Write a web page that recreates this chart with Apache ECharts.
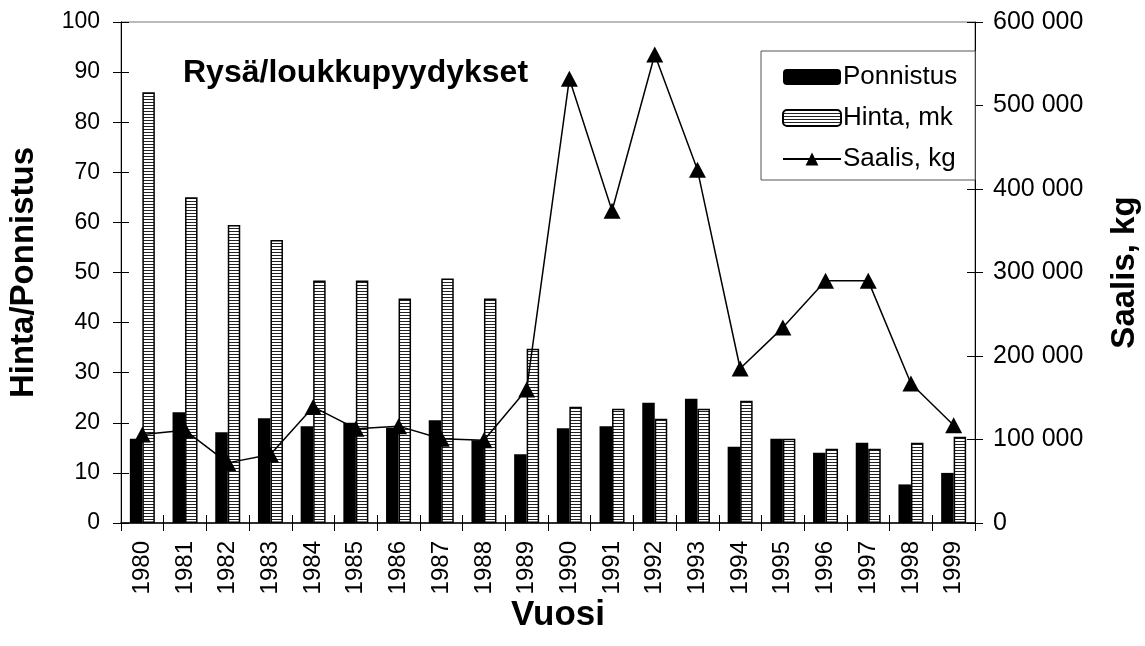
<!DOCTYPE html>
<html>
<head>
<meta charset="utf-8">
<script src="https://cdn.jsdelivr.net/npm/echarts@6/dist/echarts.min.js"></script>
<style>
  html, body { margin: 0; padding: 0; background: #fff; }
  #chart { width: 1145px; height: 646px; }
</style>
</head>
<body>
<div id="chart"></div>
<script>
// Rysä/loukkupyydykset 1980–1999: effort, price and catch
const years = ['1980','1981','1982','1983','1984','1985','1986','1987','1988','1989',
               '1990','1991','1992','1993','1994','1995','1996','1997','1998','1999'];
const ponnistus = [16.8, 22.1, 18.1, 20.9, 19.3, 20.0, 19.0, 20.5, 16.5, 13.7,
                   18.9, 19.3, 24.0, 24.8, 15.2, 16.8, 14.0, 16.0, 7.7, 10.0];
const hinta = [86, 65, 59.5, 56.5, 48.4, 48.4, 44.8, 48.8, 44.8, 34.8,
               23.2, 22.8, 20.8, 22.8, 24.4, 16.8, 14.8, 14.8, 16.0, 17.2];
const saalis = [106000, 111000, 72000, 82000, 139000, 113000, 116000, 101000, 99000, 160000,
                532000, 374000, 561000, 423000, 185000, 234000, 290000, 290000, 167000, 117000];

const FONT = '"Liberation Sans", Arial, Helvetica, sans-serif';

// horizontal line hatch used for the price bars
const hatch = document.createElement('canvas');
hatch.width = 4; hatch.height = 3;
const hctx = hatch.getContext('2d');
hctx.fillStyle = '#fff'; hctx.fillRect(0, 0, 4, 3);
hctx.fillStyle = '#222'; hctx.fillRect(0, 0, 4, 1);

const thousands = v => String(v).replace(/\B(?=(\d{3})+(?!\d))/g, ' ');

const labelStyle = { color: '#000', fontFamily: FONT, fontSize: 23 };
const nameStyle = { color: '#000', fontFamily: FONT, fontSize: 33, fontWeight: 'bold' };

const chart = echarts.init(document.getElementById('chart'), null, { renderer: 'canvas' });
chart.setOption({
  animation: false,
  backgroundColor: '#fff',
  grid: {
    left: 121, right: 170, top: 22, bottom: 123,
    outerBoundsMode: 'none', containLabel: false,
    show: true, borderColor: '#777', borderWidth: 1
  },
  title: {
    text: 'Rysä/loukkupyydykset',
    left: 178, top: 52,
    textStyle: { color: '#000', fontFamily: FONT, fontSize: 32, fontWeight: 'bold' }
  },
  legend: {
    orient: 'vertical',
    left: 761, top: 51,
    padding: [13, 18, 8, 21],
    borderColor: '#555', borderWidth: 1,
    backgroundColor: '#fff',
    itemWidth: 58, itemHeight: 16, itemGap: 15,
    textStyle: { color: '#000', fontFamily: FONT, fontSize: 26, padding: [0, 0, 0, -3] },
    data: ['Ponnistus', 'Hinta, mk', 'Saalis, kg']
  },
  xAxis: [{
    type: 'category', data: years,
    name: 'Vuosi', nameLocation: 'middle', nameGap: 75, nameMoveOverlap: false,
    nameTextStyle: Object.assign({}, nameStyle, { fontSize: 35, padding: [0, 0, 0, 20] }),
    axisLine: { lineStyle: { color: '#000', width: 1.5 } },
    axisTick: { show: true, length: 8, lineStyle: { color: '#000' } },
    axisLabel: Object.assign({ rotate: 90, margin: 18, interval: 0 }, labelStyle, { fontSize: 24 })
  }, {
    type: 'category', data: years, position: 'bottom',
    axisLine: { show: false }, axisLabel: { show: false },
    axisTick: { show: true, inside: true, length: 8, lineStyle: { color: '#000' } }
  }],
  yAxis: [{
    type: 'value', min: 0, max: 100, interval: 10, position: 'left',
    name: 'Hinta/Ponnistus', nameLocation: 'middle', nameRotate: 90, nameGap: 81, nameMoveOverlap: false,
    nameTextStyle: nameStyle,
    axisLine: { show: true, lineStyle: { color: '#000', width: 1 } },
    axisTick: { show: true, length: 8, lineStyle: { color: '#000' } },
    axisLabel: Object.assign({ margin: 21 }, labelStyle),
    splitLine: { show: false }
  }, {
    type: 'value', min: 0, max: 600000, interval: 100000, position: 'right',
    name: 'Saalis, kg', nameLocation: 'middle', nameRotate: 90, nameGap: 133, nameMoveOverlap: false,
    nameTextStyle: nameStyle,
    axisLine: { show: true, lineStyle: { color: '#000', width: 1 } },
    axisTick: { show: true, length: 8, lineStyle: { color: '#000' } },
    axisLabel: Object.assign({ margin: 18, formatter: thousands }, labelStyle, { fontSize: 25 }),
    splitLine: { show: false }
  }, {
    type: 'value', min: 0, max: 100, interval: 10, position: 'left',
    axisLine: { show: false }, axisLabel: { show: false }, splitLine: { show: false },
    axisTick: { show: true, inside: true, length: 8, lineStyle: { color: '#000' } }
  }, {
    type: 'value', min: 0, max: 600000, interval: 100000, position: 'right',
    axisLine: { show: false }, axisLabel: { show: false }, splitLine: { show: false },
    axisTick: { show: true, inside: true, length: 8, lineStyle: { color: '#000' } }
  }],
  series: [{
    name: 'Ponnistus', type: 'bar', data: ponnistus,
    xAxisIndex: 0, yAxisIndex: 0,
    barWidth: 12.5, barGap: '0%',
    itemStyle: { color: '#000' }
  }, {
    name: 'Hinta, mk', type: 'bar', data: hinta,
    xAxisIndex: 0, yAxisIndex: 0,
    barWidth: 12.5, barGap: '0%',
    itemStyle: { color: { image: hatch, repeat: 'repeat' }, borderColor: '#000', borderWidth: 1.5 }
  }, {
    name: 'Saalis, kg', type: 'line', data: saalis,
    xAxisIndex: 0, yAxisIndex: 1,
    symbol: 'triangle', symbolSize: [17, 16], showAllSymbol: true,
    lineStyle: { color: '#000', width: 1.5 },
    itemStyle: { color: '#000' },
    z: 5
  }]
});
</script>
</body>
</html>
